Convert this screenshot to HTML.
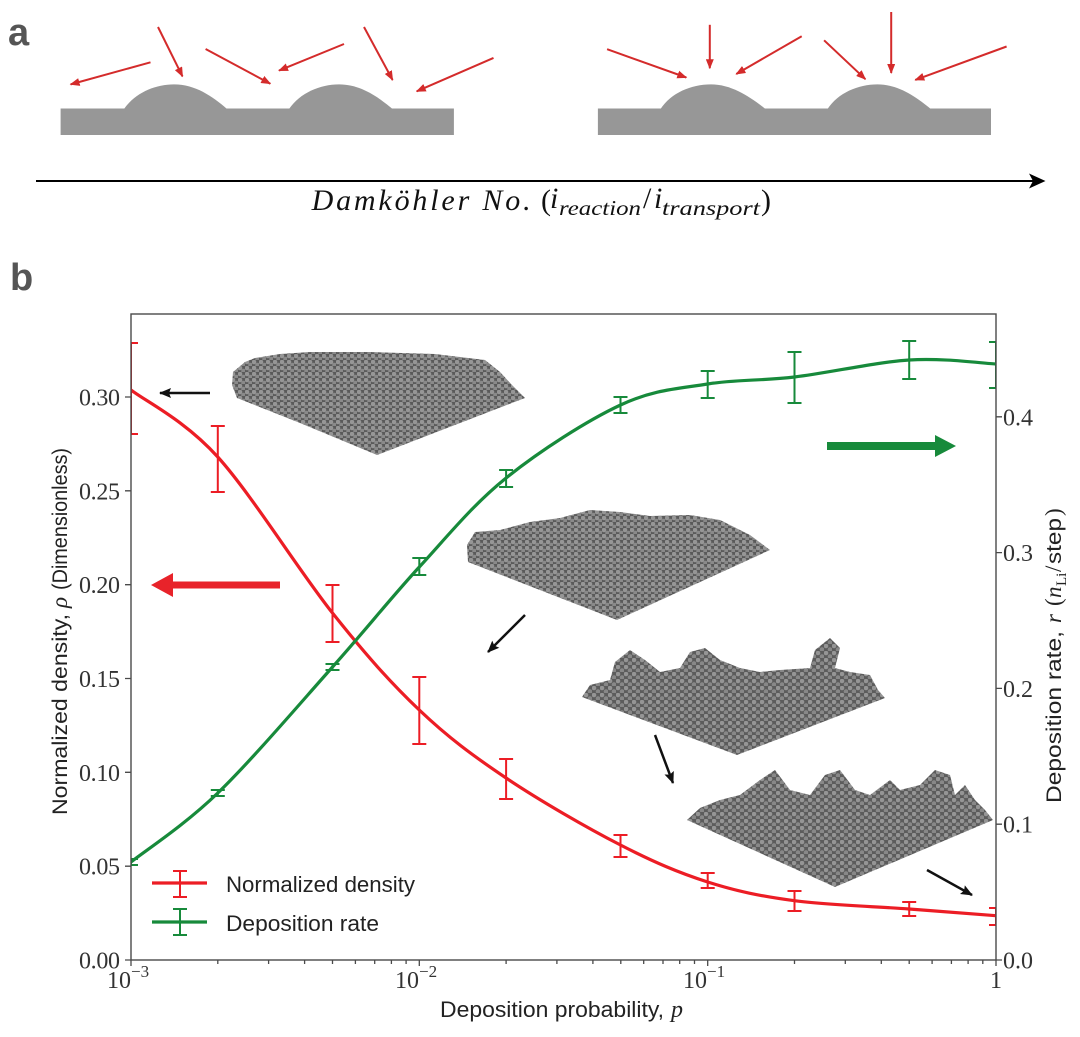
<!DOCTYPE html>
<html><head><meta charset="utf-8"><style>
html,body{margin:0;padding:0;background:#fff;}
svg{display:block;}
</style></head><body>
<svg width="1080" height="1037" viewBox="0 0 1080 1037" xmlns="http://www.w3.org/2000/svg">
<defs>
  <pattern id="balls" width="7" height="6" patternUnits="userSpaceOnUse">
    <rect width="7" height="6" fill="#5a5a5a"/>
    <circle cx="2" cy="2" r="2.3" fill="#969696"/>
    <circle cx="5.5" cy="5" r="2.3" fill="#8a8a8a"/>
  </pattern>
  <pattern id="balls2" width="8" height="7" patternUnits="userSpaceOnUse">
    <rect width="8" height="7" fill="#5c5c5c"/>
    <circle cx="2" cy="2" r="2.3" fill="#959595"/>
    <circle cx="6" cy="5.5" r="2.3" fill="#888"/>
  </pattern>
  <clipPath id="ax"><rect x="131" y="314" width="865" height="646"/></clipPath>
  <marker id="rh" markerWidth="10" markerHeight="8" refX="9" refY="4" orient="auto" markerUnits="userSpaceOnUse">
    <path d="M0,0 L10,4 L0,8 Z" fill="#d42b2b"/>
  </marker>
  <marker id="bh" markerWidth="12" markerHeight="10" refX="11" refY="5" orient="auto" markerUnits="userSpaceOnUse">
    <path d="M0,0 L12,5 L0,10 L2,5 Z" fill="#111"/>
  </marker>
</defs>

<!-- Panel a -->
<text x="8" y="45" font-family="Liberation Sans, sans-serif" font-weight="bold" font-size="38" fill="#555">a</text>
<g fill="#979797">
  <rect x="60.6" y="108.5" width="393.3" height="26.5"/>
  <path d="M124,109 C135,93 155,84.4 174,84.4 C195,84.4 212,96 227,109 Z"/>
  <path d="M289,109 C300,93 320,84.4 339,84.4 C360,84.4 377,96 392.6,109 Z"/>
  <rect x="597.9" y="108.5" width="393.1" height="26.5"/>
  <path d="M660.5,109 C671,93 691,84.4 711,84.4 C731,84.4 749,96 765.5,109 Z"/>
  <path d="M827.5,109 C838,93 858,84.4 877.5,84.4 C898,84.4 915,96 930.8,109 Z"/>
</g>
<g stroke="#d42b2b" stroke-width="2" marker-end="url(#rh)">
  <line x1="150.5" y1="62.3" x2="70.6" y2="84.4"/>
  <line x1="158" y1="27" x2="182.5" y2="76.4"/>
  <line x1="205.6" y1="49" x2="270.3" y2="83.7"/>
  <line x1="344" y1="44" x2="279" y2="70.6"/>
  <line x1="364" y1="27" x2="392.6" y2="80"/>
  <line x1="493.5" y1="57.9" x2="416.7" y2="91.3"/>
  <line x1="607.1" y1="49.2" x2="686.3" y2="77.5"/>
  <line x1="709.8" y1="24.8" x2="709.8" y2="68.2"/>
  <line x1="801.7" y1="36.2" x2="736.3" y2="74"/>
  <line x1="824.1" y1="40.3" x2="865.4" y2="79.2"/>
  <line x1="891.2" y1="12" x2="891.2" y2="73"/>
  <line x1="1006.6" y1="46.5" x2="915.3" y2="79.9"/>
</g>
<line x1="36" y1="181" x2="1036" y2="181" stroke="#000" stroke-width="2"/>
<polygon points="1045.5,181 1029,173.5 1033,181 1029,188.5" fill="#000"/>
<g font-family="Liberation Serif, serif" fill="#111">
  <text x="311.6" y="210" font-size="30" font-style="italic" textLength="219" lengthAdjust="spacing">Damköhler No.</text>
  <text x="541" y="210" font-size="30">(</text>
  <text x="550" y="208" font-size="30" font-style="italic">i</text>
  <text x="559" y="215" font-size="21" font-style="italic" textLength="82" lengthAdjust="spacingAndGlyphs">reaction</text>
  <text x="643" y="208" font-size="30">/</text>
  <text x="654" y="208" font-size="30" font-style="italic">i</text>
  <text x="662" y="215" font-size="21" font-style="italic" textLength="98" lengthAdjust="spacingAndGlyphs">transport</text>
  <text x="761" y="210" font-size="30">)</text>
</g>

<!-- Panel b -->
<text x="10" y="290" font-family="Liberation Sans, sans-serif" font-weight="bold" font-size="38" fill="#555">b</text>

<!-- insets -->
<polygon fill="url(#balls)" points="233,372 245,362 255,358 280,354 310,352 370,352 435,354 485,360 500,372 512,385 525,398 377,455 300,423 237,398 232,385"/>
<polygon fill="url(#balls)" points="467,545 475,532 500,530 530,522 560,518 590,510 620,512 650,516 690,515 720,520 750,535 770,550 617,620 468,562"/>
<polygon fill="url(#balls2)" points="582,697 590,685 610,680 615,662 630,650 645,660 660,672 680,668 690,652 705,648 720,660 740,668 760,672 780,670 810,668 815,650 830,638 840,648 835,668 850,672 870,675 878,690 885,698 737,755"/>
<polygon fill="url(#balls2)" points="687,820 700,808 720,800 740,795 760,780 775,770 790,790 810,795 825,775 840,770 855,790 870,795 890,780 900,790 920,785 935,770 950,775 955,795 965,785 975,800 985,810 993,820 835,887"/>

<!-- data -->
<g clip-path="url(#ax)" fill="none">
  <path stroke="#ec1d25" stroke-width="3.2" d="M131,390 C145.5,401.2 184.2,419.8 217.8,457 C251.4,494.2 298.9,570.8 332.5,613 C366.1,655.2 390.4,682.5 419.3,710 C448.2,737.5 472.6,755.5 506.1,778 C539.6,800.5 586.9,827.7 620.5,845 C654.1,862.3 678.7,872.7 707.7,882 C736.7,891.3 760.9,896.2 794.5,900.7 C828.1,905.2 875.6,906.5 909.2,909 C942.8,911.5 981.5,914.6 996,915.7"/>
  <path stroke="#178a3b" stroke-width="3.2" d="M131,862 C145.5,850.5 184.2,825.5 217.8,793 C251.4,760.5 298.9,704.7 332.5,667 C366.1,629.3 390.4,598.5 419.3,567 C448.2,535.5 472.6,505 506.1,478 C539.6,451 586.9,420.7 620.5,405 C654.1,389.3 678.7,388.7 707.7,384 C736.7,379.3 760.9,381 794.5,377 C828.1,373 875.6,362.2 909.2,360 C942.8,357.8 981.5,363.3 996,364"/>
  <g stroke="#ec1d25" stroke-width="2">
    <path d="M131,343V434M124,343H138M124,434H138"/>
    <path d="M217.8,426V492M210.8,426H224.8M210.8,492H224.8"/>
    <path d="M332.5,585V642M325.5,585H339.5M325.5,642H339.5"/>
    <path d="M419.3,677V744M412.3,677H426.3M412.3,744H426.3"/>
    <path d="M506.1,759V799M499.1,759H513.1M499.1,799H513.1"/>
    <path d="M620.5,835V857M613.5,835H627.5M613.5,857H627.5"/>
    <path d="M707.7,873V888M700.7,873H714.7M700.7,888H714.7"/>
    <path d="M794.5,891V911M787.5,891H801.5M787.5,911H801.5"/>
    <path d="M909.2,902V916M902.2,902H916.2M902.2,916H916.2"/>
    <path d="M996,908V925M989,908H1003M989,925H1003"/>
  </g>
  <g stroke="#178a3b" stroke-width="2">
    <path d="M131,859V865M124,859H138M124,865H138"/>
    <path d="M217.8,790V796M210.8,790H224.8M210.8,796H224.8"/>
    <path d="M332.5,664V670M325.5,664H339.5M325.5,670H339.5"/>
    <path d="M419.3,558V575M412.3,558H426.3M412.3,575H426.3"/>
    <path d="M506.1,470V487M499.1,470H513.1M499.1,487H513.1"/>
    <path d="M620.5,397V413M613.5,397H627.5M613.5,413H627.5"/>
    <path d="M707.7,371V398M700.7,371H714.7M700.7,398H714.7"/>
    <path d="M794.5,352V403M787.5,352H801.5M787.5,403H801.5"/>
    <path d="M909.2,341V379M902.2,341H916.2M902.2,379H916.2"/>
    <path d="M996,342V388M989,342H1003M989,388H1003"/>
  </g>
</g>

<!-- thick arrows -->
<polygon fill="#e8232a" points="151,585 173,573 173,581.5 280,581.5 280,588.5 173,588.5 173,597"/>
<polygon fill="#178a3b" points="956,446 935,435 935,442 827,442 827,450 935,450 935,457"/>
<!-- black arrows -->
<g stroke="#111" stroke-width="2.5" marker-end="url(#bh)">
  <line x1="210" y1="393" x2="160" y2="393"/>
  <line x1="525" y1="615" x2="488" y2="652"/>
  <line x1="655" y1="735" x2="673" y2="783"/>
  <line x1="927" y1="870" x2="972" y2="895"/>
</g>

<!-- axes frame -->
<rect x="131" y="314" width="865" height="646" fill="none" stroke="#4a4a4a" stroke-width="1.4"/>
<g stroke="#4a4a4a" stroke-width="1.3">
  <path d="M125,960H131M125,866.2H131M125,772.3H131M125,678.5H131M125,584.7H131M125,490.8H131M125,397H131"/>
  <path d="M996,960H1002M996,824.2H1002M996,688.4H1002M996,552.6H1002M996,416.8H1002"/>
  <path d="M131,960V966M419.3,960V966M707.7,960V966M996,960V966"/>
  <path d="M217.8,960V964M268.6,960V964M304.6,960V964M332.5,960V964M355.4,960V964M374.7,960V964M391.4,960V964M406.1,960V964
           M506.1,960V964M556.9,960V964M592.9,960V964M620.8,960V964M643.7,960V964M663,960V964M679.7,960V964M694.5,960V964
           M794.5,960V964M845.3,960V964M881.3,960V964M909.2,960V964M932.1,960V964M951.4,960V964M968.1,960V964M982.8,960V964"/>
</g>
<g font-family="Liberation Serif, serif" font-size="24" fill="#333">
  <g text-anchor="end">
    <text x="120" y="968.5" textLength="41">0.00</text>
    <text x="120" y="874.7" textLength="41">0.05</text>
    <text x="120" y="780.8" textLength="41">0.10</text>
    <text x="120" y="687" textLength="41">0.15</text>
    <text x="120" y="593.2" textLength="41">0.20</text>
    <text x="120" y="499.3" textLength="41">0.25</text>
    <text x="120" y="405.5" textLength="41">0.30</text>
  </g>
  <text x="1003" y="968.5" textLength="30">0.0</text>
  <text x="1003" y="832.7" textLength="30">0.1</text>
  <text x="1003" y="696.9" textLength="30">0.2</text>
  <text x="1003" y="561.1" textLength="30">0.3</text>
  <text x="1003" y="425.3" textLength="30">0.4</text>
  <text x="107" y="988">10<tspan dy="-11" font-size="17">−3</tspan></text>
  <text x="395" y="988">10<tspan dy="-11" font-size="17">−2</tspan></text>
  <text x="683" y="988">10<tspan dy="-11" font-size="17">−1</tspan></text>
  <text x="996" y="988" text-anchor="middle">1</text>
</g>

<!-- axis labels -->
<text x="440" y="1017" font-family="Liberation Sans, sans-serif" font-size="22" fill="#222" textLength="224" lengthAdjust="spacingAndGlyphs">Deposition probability,</text>
<text x="671" y="1017" font-family="Liberation Serif, serif" font-style="italic" font-size="24" fill="#222">p</text>

<g transform="translate(67,815) rotate(-90)" fill="#222">
  <text x="0" y="0" font-family="Liberation Sans, sans-serif" font-size="21.5" textLength="201" lengthAdjust="spacingAndGlyphs">Normalized density,</text>
  <text x="207" y="0" font-family="Liberation Serif, serif" font-style="italic" font-size="23">ρ</text>
  <text x="225" y="0" font-family="Liberation Sans, sans-serif" font-size="21.5" textLength="142" lengthAdjust="spacingAndGlyphs">(Dimensionless)</text>
</g>

<g transform="translate(1061,803) rotate(-90)" fill="#222">
  <text x="0" y="0" font-family="Liberation Sans, sans-serif" font-size="21.5" textLength="172" lengthAdjust="spacingAndGlyphs">Deposition rate,</text>
  <text x="180" y="0" font-family="Liberation Serif, serif" font-style="italic" font-size="23">r</text>
  <text x="197" y="0" font-family="Liberation Serif, serif" font-size="23">(</text>
  <text x="205" y="0" font-family="Liberation Serif, serif" font-style="italic" font-size="23">n</text>
  <text x="217" y="5" font-family="Liberation Serif, serif" font-size="15">Li</text>
  <text x="231" y="0" font-family="Liberation Serif, serif" font-size="23">/</text>
  <text x="239" y="0" font-family="Liberation Sans, sans-serif" font-size="21.5" textLength="46" lengthAdjust="spacingAndGlyphs">step</text>
  <text x="287" y="0" font-family="Liberation Serif, serif" font-size="23">)</text>
</g>

<!-- legend -->
<g stroke-width="2">
  <line x1="152" y1="883" x2="207" y2="883" stroke="#ec1d25" stroke-width="3.2"/>
  <path d="M180,871V897M173,871H187M173,897H187" stroke="#ec1d25" fill="none"/>
  <line x1="152" y1="922" x2="207" y2="922" stroke="#178a3b" stroke-width="3.2"/>
  <path d="M180,909V935M173,909H187M173,935H187" stroke="#178a3b" fill="none"/>
</g>
<g font-family="Liberation Sans, sans-serif" font-size="22" fill="#222">
  <text x="226" y="892" textLength="189" lengthAdjust="spacingAndGlyphs">Normalized density</text>
  <text x="226" y="931" textLength="153" lengthAdjust="spacingAndGlyphs">Deposition rate</text>
</g>
</svg>
</body></html>
